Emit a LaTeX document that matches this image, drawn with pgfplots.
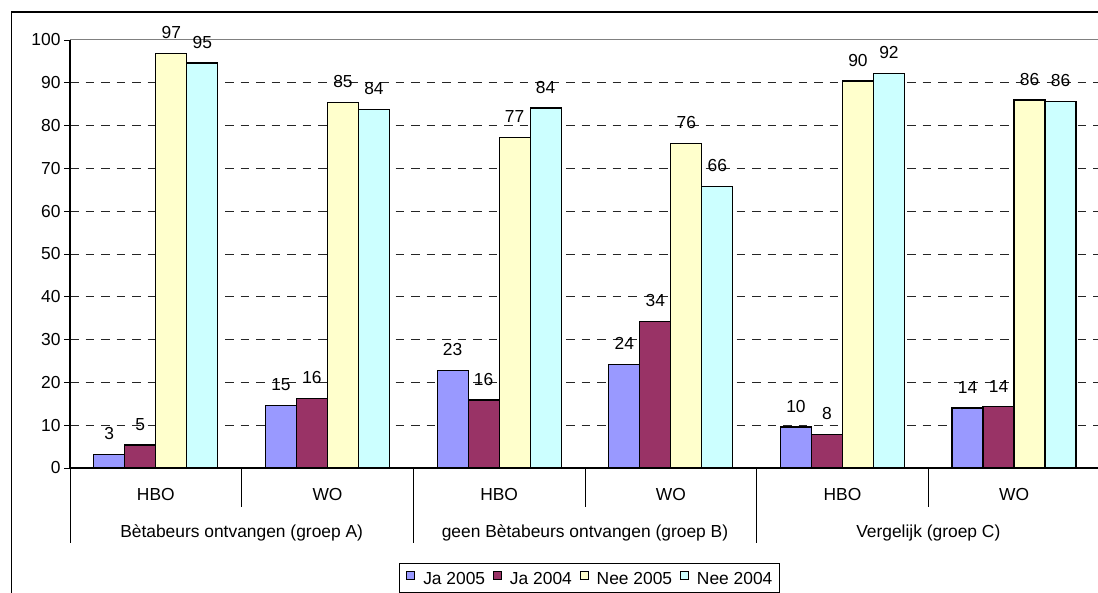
\documentclass[border=0pt]{standalone}
\usepackage{pgfplots}
\pgfplotsset{compat=1.18}
\usepackage{fontspec}
\setmainfont{Liberation Sans}
\definecolor{cJaA}{HTML}{9999FF}
\definecolor{cJaB}{HTML}{993366}
\definecolor{cNeeA}{HTML}{FFFFCC}
\definecolor{cNeeB}{HTML}{CCFFFF}
\begin{document}
\begin{tikzpicture}[font=\fontsize{17.4pt}{20pt}\selectfont]
\clip (0,0) rectangle (1098pt,592pt);
\draw[line width=1.5pt] (11.5pt,580pt) rectangle (1130pt,-40pt);
\begin{axis}[
  at={(70pt,124pt)}, anchor=south west,
  scale only axis, width=1030pt, height=428pt,
  ybar=0pt, bar width=31pt,
  xmin=-0.5, xmax=5.5, ymin=0, ymax=100,
  axis x line*=bottom, axis y line*=left,
  axis line style={line width=1.1pt, black},
  ytick={0,10,...,90}, extra y ticks={100}, extra y tick style={grid=none},
  ymajorgrids, grid style={black!85, line width=0.9pt, dash pattern=on 8.5pt off 7pt},
  tick align=outside, major tick length=6pt,
  ytick style={black, line width=0.9pt},
  xtick={0,...,5}, xticklabels={HBO,WO,HBO,WO,HBO,WO},
  xtick style={draw=none},
  xticklabel style={anchor=base, yshift=-26pt},
  /pgf/number format/assume math mode=true,
  nodes near coords={\pgfmathprintnumber[fixed,precision=0]{\pgfplotspointmeta}},
  every node near coord/.append style={anchor=south, inner sep=0pt, yshift=14pt, black},
  clip=false,
  legend columns=4,
  legend style={at={(rel axis cs:0.3194,-0.222)}, anchor=north west, draw=black, line width=1pt,
    inner xsep=7pt, inner ysep=7pt,
    nodes={inner sep=0pt},
    /tikz/every odd column/.append style={column sep=8pt},
    /tikz/every even column/.append style={column sep=8pt}},
  legend image code/.code={\draw[#1, line width=0.8pt] (0pt,0pt) rectangle (8pt,8pt);},
]
\addplot[fill=cJaA, draw=black, line width=1.3pt] coordinates {(0,3.2) (1,14.6) (2,22.8) (3,24.2) (4,9.6) (5,14.0)};
\addplot[fill=cJaB, draw=black, line width=1.3pt] coordinates {(0,5.4) (1,16.2) (2,15.9) (3,34.3) (4,7.9) (5,14.3)};
\addplot[fill=cNeeA, draw=black, line width=1.3pt] coordinates {(0,96.8) (1,85.4) (2,77.2) (3,75.8) (4,90.4) (5,86.0)};
\addplot[fill=cNeeB, draw=black, line width=1.3pt] coordinates {(0,94.6) (1,83.8) (2,84.1) (3,65.7) (4,92.1) (5,85.7)};
\legend{Ja 2005, Ja 2004, Nee 2005, Nee 2004}
\draw[gray, line width=1pt] (axis cs:-0.5,100) -- (axis cs:5.5,100);
\pgfplotsinvokeforeach{-0.5,1.5,3.5,5.5}{\draw[line width=0.9pt] (axis cs:#1,0) -- ++(0pt,-75pt);}
\pgfplotsinvokeforeach{0.5,2.5,4.5}{\draw[line width=0.9pt] (axis cs:#1,0) -- ++(0pt,-39pt);}
\node[anchor=base] at ([yshift=-69pt]axis cs:0.5,0) {Bètabeurs ontvangen (groep A)};
\node[anchor=base] at ([yshift=-69pt]axis cs:2.5,0) {geen Bètabeurs ontvangen (groep B)};
\node[anchor=base] at ([yshift=-69pt]axis cs:4.5,0) {Vergelijk (groep C)};
\end{axis}
\end{tikzpicture}
\end{document}
